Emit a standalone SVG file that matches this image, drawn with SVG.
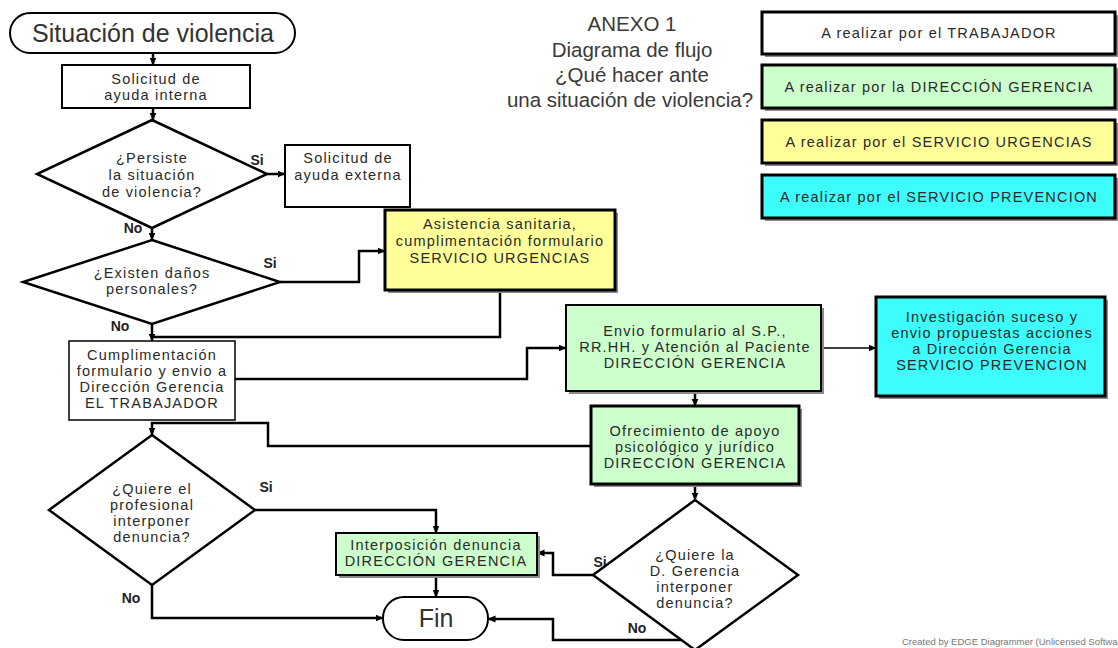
<svg xmlns="http://www.w3.org/2000/svg" width="1118" height="648" viewBox="0 0 1118 648">
<style>
  text { font-family: "Liberation Sans", Arial, sans-serif; fill: #2a2a2a; }
  .t { font-size: 14.5px; letter-spacing: 1.2px; text-anchor: middle; }
  .lg { font-size: 14.5px; letter-spacing: 1.2px; text-anchor: middle; }
  .lbl { font-size: 14px; font-weight: bold; text-anchor: middle; fill: #222; }
  .title { font-size: 20.5px; text-anchor: middle; fill: #3a3a3a; }
  .term { font-size: 25px; text-anchor: middle; fill: #333; }
  .box { fill: #fff; stroke: #000; stroke-width: 2; }
  .thin { fill: #fff; stroke: #000; stroke-width: 1.5; }
  .green { fill: #ccffcc; stroke: #000; stroke-width: 2; }
  .greenT { fill: #ccffcc; stroke: #000; stroke-width: 3; }
  .yellow { fill: #ffff99; stroke: #000; stroke-width: 3; }
  .cyan { fill: #3cfcfc; stroke: #000; stroke-width: 3; }
  .white3 { fill: #fff; stroke: #000; stroke-width: 3; }
  .sh { fill: #8c8c8c; }
  .dia { fill: #fff; stroke: #000; stroke-width: 2.5; }
  .c { fill: none; stroke: #000; stroke-width: 2.5; }
  .c1 { fill: none; stroke: #000; stroke-width: 1.5; }
  .foot { font-size: 9.5px; fill: #777; }
</style>
<defs>
  <marker id="ah" markerWidth="8" markerHeight="8" refX="7.5" refY="4" orient="auto" markerUnits="userSpaceOnUse">
    <path d="M0,0.5 L8,4 L0,7.5 z" fill="#000"/>
  </marker>
</defs>
<rect width="1118" height="648" fill="#fff"/>

<!-- Title -->
<g id="title">
  <text class="title" x="632" y="31">ANEXO 1</text>
  <text class="title" x="632" y="57">Diagrama de flujo</text>
  <text class="title" x="632" y="82">¿Qué hacer ante</text>
  <text class="title" x="630" y="107">una situación de violencia?</text>
</g>

<!-- Legend -->
<g id="legend-trabajador">
  <rect class="sh" x="765" y="15" width="353" height="42"/>
  <rect class="white3" x="762" y="12" width="353" height="42"/>
  <text class="lg" x="939" y="38">A realizar por el TRABAJADOR</text>
</g>
<g id="legend-direccion">
  <rect class="sh" x="765" y="68" width="353" height="43"/>
  <rect class="greenT" x="762" y="65" width="353" height="43"/>
  <text class="lg" x="939" y="92">A realizar por la DIRECCIÓN GERENCIA</text>
</g>
<g id="legend-urgencias">
  <rect class="sh" x="765" y="123" width="353" height="43"/>
  <rect class="yellow" x="762" y="120" width="353" height="43"/>
  <text class="lg" x="939" y="147">A realizar por el SERVICIO URGENCIAS</text>
</g>
<g id="legend-prevencion">
  <rect class="sh" x="765" y="178" width="353" height="43"/>
  <rect class="cyan" x="762" y="175" width="353" height="43"/>
  <text class="lg" x="939" y="202">A realizar por el SERVICIO PREVENCION</text>
</g>

<!-- Connectors -->
<g id="connectors">
  <path class="c" d="M153,53 V65" marker-end="url(#ah)"/>
  <path class="c" d="M153,108 V120" marker-end="url(#ah)"/>
  <path class="c" d="M267,174 H285" marker-end="url(#ah)"/>
  <path class="c" d="M152,228 V240" marker-end="url(#ah)"/>
  <path class="c" d="M280,282 H359 V251 H385" marker-end="url(#ah)"/>
  <path class="c" d="M152,324 V341" marker-end="url(#ah)"/>
  <path class="c" d="M500,292 V337 H152"/>
  <path class="c" d="M235,379 H527 V348 H566" marker-end="url(#ah)"/>
  <path class="c1" d="M824,348 H876" marker-end="url(#ah)"/>
  <path class="c" d="M695,391 V406" marker-end="url(#ah)"/>
  <path class="c" d="M591,446 H268 V423 H152 V435" marker-end="url(#ah)"/>
  <path class="c" d="M255,510 H436 V533" marker-end="url(#ah)"/>
  <path class="c" d="M152,585 V618 H383" marker-end="url(#ah)"/>
  <path class="c" d="M695,484 V500" marker-end="url(#ah)"/>
  <path class="c" d="M593,575 H553 V553 H537" marker-end="url(#ah)"/>
  <path class="c" d="M436,575 V597" marker-end="url(#ah)"/>
  <path class="c" d="M681,640 H553 V619 H488" marker-end="url(#ah)"/>
</g>

<!-- Edge labels -->
<g id="edge-labels">
  <text class="lbl" x="257" y="165">Si</text>
  <text class="lbl" x="133" y="233">No</text>
  <text class="lbl" x="270" y="268">Si</text>
  <text class="lbl" x="120" y="331">No</text>
  <text class="lbl" x="266" y="492">Si</text>
  <text class="lbl" x="131" y="603">No</text>
  <text class="lbl" x="600" y="567">Si</text>
  <text class="lbl" x="637" y="633">No</text>
</g>

<!-- Nodes -->
<g id="start">
  <rect class="box" x="10" y="13" width="285" height="40" rx="20" ry="20"/>
  <text class="term" x="153" y="42">Situación de violencia</text>
</g>

<g id="solicitud-interna">
  <rect class="box" x="62" y="65" width="188" height="43"/>
  <text class="t" x="156" y="84">Solicitud de</text>
  <text class="t" x="156" y="100">ayuda interna</text>
</g>

<g id="persiste">
  <polygon class="dia" points="152,120 267,174 152,228 37,174"/>
  <text class="t" x="152" y="163">¿Persiste</text>
  <text class="t" x="152" y="180">la situación</text>
  <text class="t" x="152" y="197">de violencia?</text>
</g>

<g id="solicitud-externa">
  <rect class="box" x="285" y="145" width="125" height="62"/>
  <text class="t" x="348" y="163">Solicitud de</text>
  <text class="t" x="348" y="180">ayuda externa</text>
</g>

<g id="danos">
  <polygon class="dia" points="152,240 280,282 152,324 23,282"/>
  <text class="t" x="152" y="278">¿Existen daños</text>
  <text class="t" x="152" y="294">personales?</text>
</g>

<g id="asistencia">
  <rect class="sh" x="388" y="213" width="230" height="80"/>
  <rect class="yellow" x="385" y="210" width="230" height="80"/>
  <text class="t" x="500" y="229">Asistencia sanitaria,</text>
  <text class="t" x="500" y="246">cumplimentación formulario</text>
  <text class="t" x="500" y="263">SERVICIO URGENCIAS</text>
</g>

<g id="cumplimentacion">
  <rect class="thin" x="69" y="341" width="166" height="79"/>
  <text class="t" x="152" y="360">Cumplimentación</text>
  <text class="t" x="152" y="376">formulario y envio a</text>
  <text class="t" x="152" y="392">Dirección Gerencia</text>
  <text class="t" x="152" y="408">EL TRABAJADOR</text>
</g>

<g id="envio">
  <rect class="sh" x="569" y="308" width="255" height="86"/>
  <rect class="green" x="566" y="305" width="255" height="86"/>
  <text class="t" x="695" y="336">Envio formulario al S.P.,</text>
  <text class="t" x="695" y="352">RR.HH. y Atención al Paciente</text>
  <text class="t" x="695" y="368">DIRECCIÓN GERENCIA</text>
</g>

<g id="investigacion">
  <rect class="sh" x="879" y="300" width="229" height="99"/>
  <rect class="cyan" x="876" y="297" width="229" height="99"/>
  <text class="t" x="992" y="322">Investigación suceso y</text>
  <text class="t" x="992" y="338">envio propuestas acciones</text>
  <text class="t" x="992" y="354">a Dirección Gerencia</text>
  <text class="t" x="992" y="370">SERVICIO PREVENCION</text>
</g>

<g id="ofrecimiento">
  <rect class="sh" x="594" y="409" width="208" height="78"/>
  <rect class="greenT" x="591" y="406" width="208" height="78"/>
  <text class="t" x="695" y="436">Ofrecimiento de apoyo</text>
  <text class="t" x="695" y="452">psicológico y jurídico</text>
  <text class="t" x="695" y="468">DIRECCIÓN GERENCIA</text>
</g>

<g id="quiere-profesional">
  <polygon class="dia" points="152,435 255,510 152,585 49,510"/>
  <text class="t" x="152" y="494">¿Quiere el</text>
  <text class="t" x="152" y="510">profesional</text>
  <text class="t" x="152" y="526">interponer</text>
  <text class="t" x="152" y="542">denuncia?</text>
</g>

<g id="interposicion">
  <rect class="sh" x="339" y="536" width="201" height="42"/>
  <rect class="green" x="336" y="533" width="201" height="42"/>
  <text class="t" x="436" y="550">Interposición denuncia</text>
  <text class="t" x="436" y="566">DIRECCIÓN GERENCIA</text>
</g>

<g id="quiere-gerencia">
  <polygon class="dia" points="695,500 798,575 695,650 593,575"/>
  <text class="t" x="695" y="560">¿Quiere la</text>
  <text class="t" x="695" y="576">D. Gerencia</text>
  <text class="t" x="695" y="592">interponer</text>
  <text class="t" x="695" y="608">denuncia?</text>
</g>

<g id="fin">
  <rect class="box" x="383" y="597" width="105" height="43" rx="21" ry="21"/>
  <text class="term" x="436" y="627">Fin</text>
</g>

<text class="foot" x="902" y="645">Created by EDGE Diagrammer (Unlicensed Softwa</text>
</svg>
